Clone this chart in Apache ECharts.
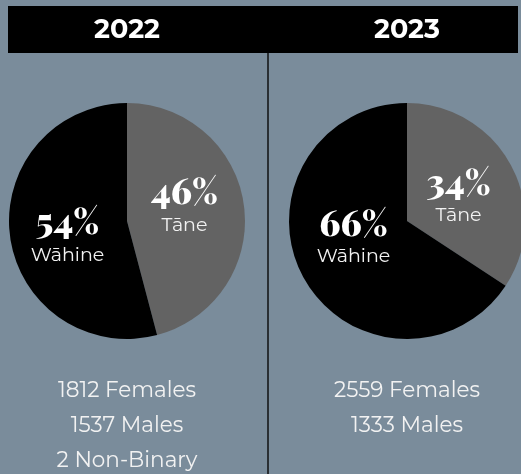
<!DOCTYPE html>
<html>
<head>
<meta charset="utf-8">
<script src="https://cdn.jsdelivr.net/npm/echarts@6/dist/echarts.min.js"></script>
<style>
html,body{margin:0;padding:0;background:#7a8c9b;}
#chart{width:521px;height:474px;}
</style>
</head>
<body>
<div id="chart"></div>
<script>
const years = ['2022', '2023'];
const categories = ['Tāne', 'Wāhine'];
const males = [1537, 1333];
const females = [1812, 2559];
const nonBinary = [2, 0];

// layout / style constants
const sliceColors = ['#636363', '#000000'];
const centersX = [127, 407];
const labelOffsets = [
  [[-4, -4], [2, 10]],
  [[-3, 8], [1, -10]]
];

const chart = echarts.init(document.getElementById('chart'));
const sans = 'Montserrat, "Open Sans", "Noto Sans", sans-serif';
const serif = '"Playfair Display", "DejaVu Serif", "Liberation Serif", serif';

const series = years.map((y, i) => ({
  type: 'pie',
  center: [centersX[i], 221],
  radius: 118,
  startAngle: 90,
  clockwise: true,
  percentPrecision: 0,
  silent: true,
  animation: false,
  label: {
    show: true,
    position: 'inside',
    formatter: '{pct|{d}%}\n{nm|{b}}',
    rich: {
      pct: { fontFamily: serif, fontWeight: 900, fontSize: 36, color: '#ffffff', lineHeight: 32 },
      nm: { fontFamily: sans, fontSize: 19, color: '#f2f2f2', lineHeight: 32 }
    }
  },
  labelLine: { show: false },
  data: categories.map((c, j) => ({
    name: c,
    value: j === 0 ? males[i] : females[i],
    itemStyle: { color: sliceColors[j] },
    label: { offset: labelOffsets[i][j] }
  }))
}));

const titles = [];
years.forEach((y, i) => {
  titles.push({
    text: y, left: centersX[i] - 5, top: 12, textAlign: 'center',
    textStyle: { color: '#ffffff', fontFamily: sans, fontWeight: 'bold', fontSize: 27 }
  });
  const lines = [females[i] + ' Females', males[i] + ' Males'];
  if (nonBinary[i] > 0) lines.push(nonBinary[i] + ' Non-Binary');
  titles.push({
    text: lines.join('\n'), left: centersX[i] - 5, top: 368, textAlign: 'center',
    textStyle: { color: '#f2f2f2', fontFamily: sans, fontWeight: 'normal', fontSize: 21.5, lineHeight: 35 }
  });
});

chart.setOption({
  backgroundColor: '#7a8c9b',
  animation: false,
  graphic: [
    { type: 'rect', shape: { x: 8, y: 6, width: 510, height: 47 }, style: { fill: '#000000' }, z: -1 },
    { type: 'line', shape: { x1: 268, y1: 53, x2: 268, y2: 474 }, style: { stroke: '#111111', lineWidth: 1.5 }, z: -1 }
  ],
  title: titles,
  series: series
});
</script>
</body>
</html>
